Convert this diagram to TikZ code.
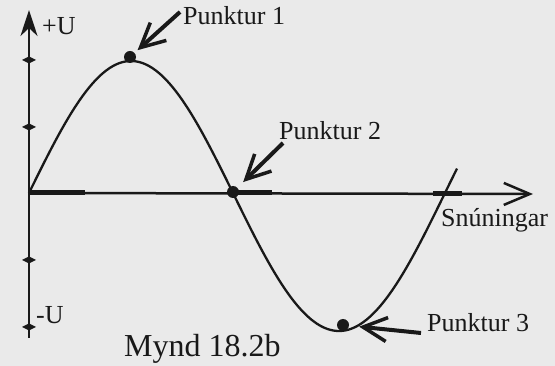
\documentclass[tikz,border=0pt]{standalone}
\usepackage{fontspec}
\setmainfont{Liberation Serif}
\usetikzlibrary{arrows.meta}
\definecolor{paper}{RGB}{234,234,234}
\definecolor{ink}{RGB}{25,25,25}
\begin{document}
\begin{tikzpicture}[x=1pt,y=-1pt,
  dot/.style={circle,fill=ink,inner sep=0pt,minimum size=12pt},
  lbl/.style={font=\fontsize{26}{30}\selectfont,text=ink,inner sep=0pt,anchor=base west},
  curve/.style={draw=ink,line width=2.3pt},
  axisline/.style={draw=ink,line width=2.5pt},
  bigarrow/.style={draw=ink,line width=4pt,-{Straight Barb[length=24pt,width=24pt,line width=3.5pt]}},
  thickseg/.style={draw=ink,line width=5pt}
]
\useasboundingbox (0,0) rectangle (555,366);
\fill[paper] (0,0) rectangle (555,366);
% axes
\coordinate (o) at (29,193);
\coordinate (xend) at (533,194);
\coordinate (vb) at (29,338);
\coordinate (vt) at (29,10);
\draw[axisline,-{Straight Barb[length=26pt,width=22pt,line width=2.5pt]}] (o) -- (xend);
\draw[axisline,line width=2.8pt,-{Stealth[length=26pt,width=17pt,inset=8pt]}] (vb) -- (vt);
\foreach \yy in {60,127,260,327}
  \fill[ink] (22,\yy) -- (29,{\yy-3.5}) -- (36,\yy) -- (29,{\yy+3.5}) -- cycle;
\draw[thickseg] (29,193) -- (85,193);
\draw[thickseg] (233,193) -- (272,193);
\draw[thickseg] (433,194) -- (462,194);
% curve
\draw[curve] plot[domain=29:233,samples=100] (\x,{193-132*sin((\x-29)*0.882353)});
\draw[curve] plot[domain=233:457,samples=100] (\x,{193+138*sin((\x-233)*0.849057)});
% points
\node[dot] (d1) at (130,57) {};
\node[dot] (d2) at (233,192) {};
\node[dot] (d3) at (343,325) {};
% labels
\node[lbl] (pu) at (42,35) {+U};
\node[lbl] (mu) at (36,324) {-U};
\node[lbl] (l1) at (183,25) {Punktur 1};
\node[lbl] (l2) at (279,140) {Punktur 2};
\node[lbl] (l3) at (427,332) {Punktur 3};
\node[lbl] (sn) at (441,227) {Snúningar};
\node[lbl,font=\fontsize{32}{36}\selectfont] (cap) at (124,357) {Mynd 18.2b};
% arrows
\coordinate (a1) at (180,12);
\coordinate (a2) at (283,143);
\coordinate (a3) at (421,333);
\draw[bigarrow,shorten >=4pt] (a1) -- (d1);
\draw[bigarrow,shorten >=8pt] (a2) -- (d2);
\draw[bigarrow,shorten >=10pt] (a3) -- (d3);
\end{tikzpicture}
\end{document}
